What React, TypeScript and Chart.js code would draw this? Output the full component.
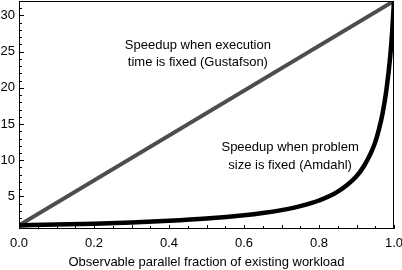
import React, { useEffect, useRef } from "react";
import { Chart, registerables } from "chart.js";

Chart.register(...registerables);

const parallelFraction = [0, 0.1, 0.2, 0.3, 0.4, 0.5, 0.6, 0.65, 0.7, 0.75, 0.8, 0.85, 0.9, 0.92, 0.94, 0.95, 0.96, 0.97, 0.98, 0.99, 0.995, 1.0];
const amdahlSpeedup = [1.0, 1.11, 1.24, 1.41, 1.63, 1.94, 2.39, 2.7, 3.11, 3.66, 4.44, 5.66, 7.8, 9.2, 11.2, 12.5, 14.3, 16.6, 19.8, 24.4, 27.7, 32.0];
const gustafsonFraction = [0, 1];
const gustafsonSpeedup = [1, 32];
const xTickLabels = [0, 0.2, 0.4, 0.6, 0.8, 1.0];
const yTickLabels = [5, 10, 15, 20, 25, 30];
const xAxisTitle = "Observable parallel fraction of existing workload";
const gustafsonLabel = ["Speedup when execution", "time is fixed (Gustafson)"];
const amdahlLabel = ["Speedup when problem", "size is fixed (Amdahl)"];

const FONT = "'Liberation Sans', Arial, Helvetica, sans-serif";

const framePlugin = {
  id: "frame",
  afterDatasetsDraw(chart: any) {
    const { ctx, chartArea } = chart;
    const xs = chart.scales.x;
    const ys = chart.scales.y;
    ctx.save();
    ctx.strokeStyle = "#000";
    ctx.lineWidth = 1;
    for (let i = 0; i <= 20; i++) {
      const v = i * 0.05;
      const px = Math.round(xs.getPixelForValue(v)) + 0.5;
      const len = i % 2 === 0 ? 4 : 3;
      ctx.beginPath();
      ctx.moveTo(px, chartArea.bottom);
      ctx.lineTo(px, chartArea.bottom - len);
      ctx.stroke();
    }
    for (let v = 1; v <= 32; v++) {
      const py = Math.round(ys.getPixelForValue(v)) + 0.5;
      const len = v % 5 === 0 ? 5 : 3;
      ctx.beginPath();
      ctx.moveTo(chartArea.left, py);
      ctx.lineTo(chartArea.left + len, py);
      ctx.stroke();
    }
    ctx.strokeRect(
      Math.round(chartArea.left) + 0.5,
      Math.round(chartArea.top) + 0.5,
      Math.round(chartArea.right - chartArea.left) - 1,
      Math.round(chartArea.bottom - chartArea.top) - 1
    );
    ctx.fillStyle = "#000";
    ctx.font = `13px ${FONT}`;
    ctx.textAlign = "center";
    ctx.textBaseline = "middle";
    const gx = xs.getPixelForValue(0.477);
    ctx.fillText(gustafsonLabel[0], gx, ys.getPixelForValue(25.9));
    ctx.fillText(gustafsonLabel[1], gx, ys.getPixelForValue(23.55));
    const ax = xs.getPixelForValue(0.723);
    ctx.fillText(amdahlLabel[0], ax, ys.getPixelForValue(11.8));
    ctx.fillText(amdahlLabel[1], ax, ys.getPixelForValue(9.35));
    ctx.restore();
  },
};

export default function App() {
  const ref = useRef<HTMLCanvasElement | null>(null);
  useEffect(() => {
    if (!ref.current) return;
    const chart = new Chart(ref.current, {
      type: "line",
      data: {
        datasets: [
          {
            label: "Amdahl",
            data: parallelFraction.map((x, i) => ({ x, y: amdahlSpeedup[i] })),
            borderColor: "#000",
            borderWidth: 4.5,
            pointRadius: 0,
            cubicInterpolationMode: "monotone",
            fill: false,
          },
          {
            label: "Gustafson",
            data: gustafsonFraction.map((x, i) => ({ x, y: gustafsonSpeedup[i] })),
            borderColor: "#4d4d4d",
            borderWidth: 4,
            pointRadius: 0,
            fill: false,
          },
        ],
      },
      options: {
        animation: false,
        responsive: false,
        layout: { padding: { left: 0, right: 8, top: 1, bottom: 0 } },
        plugins: { legend: { display: false }, tooltip: { enabled: false } },
        scales: {
          x: {
            type: "linear",
            min: 0,
            max: 1,
            afterBuildTicks: (s: any) => {
              s.ticks = xTickLabels.map((v) => ({ value: v }));
            },
            afterFit: (s: any) => {
              s.height = 41;
              s.paddingLeft = 0;
              s.paddingRight = 0;
            },
            grid: { display: false, drawTicks: false },
            border: { display: false },
            ticks: {
              color: "#000",
              font: { family: FONT, size: 13 },
              padding: 7,
              maxRotation: 0,
              callback: (v: any) => Number(v).toFixed(1),
            },
            title: {
              display: true,
              text: xAxisTitle,
              color: "#000",
              font: { family: FONT, size: 13 },
              padding: { top: 0, bottom: 0 },
            },
          },
          y: {
            type: "linear",
            min: 0.5,
            max: 32,
            afterBuildTicks: (s: any) => {
              s.ticks = yTickLabels.map((v) => ({ value: v }));
            },
            afterFit: (s: any) => {
              s.width = 19;
              s.paddingTop = 0;
              s.paddingBottom = 0;
            },
            grid: { display: false, drawTicks: false },
            border: { display: false },
            ticks: {
              color: "#000",
              font: { family: FONT, size: 13 },
              padding: 4,
            },
          },
        },
      },
      plugins: [framePlugin],
    });
    return () => chart.destroy();
  }, []);
  return (
    <div style={{ position: "fixed", left: 0, top: 0, width: 402, height: 270, background: "#fff" }}>
      <canvas ref={ref} width={402} height={270} style={{ display: "block" }} />
    </div>
  );
}
